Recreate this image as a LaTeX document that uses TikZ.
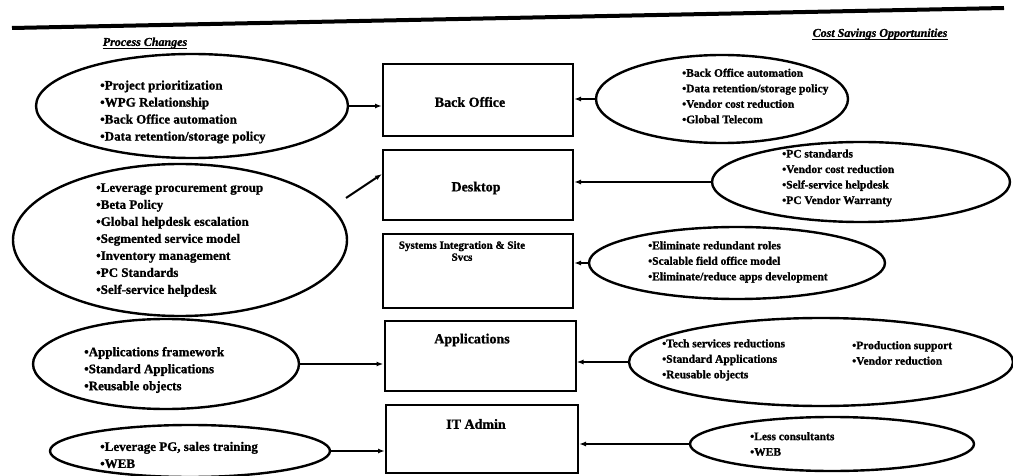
\documentclass[tikz,border=0pt]{standalone}
\usepackage{fontspec}
\setmainfont{Liberation Serif}[BoldFeatures={FakeBold=1.2},BoldItalicFeatures={FakeBold=1.2}]
\usetikzlibrary{arrows.meta,shapes.geometric}
\begin{document}
\begin{tikzpicture}[x=1pt,y=-1pt,
  oval/.style={draw, ellipse, line width=2.4pt, inner sep=0pt},
  area/.style={draw, rectangle, line width=2pt, inner sep=0pt, minimum width=190pt},
  items/.style={font=\fontsize{13}{17}\selectfont\bfseries, align=left, inner sep=0pt, anchor=west},
  ritems/.style={font=\fontsize{11.5}{15.5}\selectfont\bfseries, align=left, inner sep=0pt, anchor=west},
  boxlabel/.style={font=\fontsize{14}{16}\selectfont\bfseries, inner sep=0pt},
  smalllabel/.style={font=\fontsize{11}{12}\selectfont\bfseries, inner sep=0pt, align=center},
  heading/.style={font=\fontsize{12}{14}\selectfont\bfseries\itshape, inner sep=0pt},
  underscore/.style={line width=1.3pt},
  link/.style={line width=2pt, -{Latex[length=7pt,width=5pt]}},
]
\useasboundingbox (0,0) rectangle (1013,476);

% rule across the top of the page
\draw[line width=4pt] (12,28) -- (1004,8);

% column headings, underlined
\node[heading] (hleft) at (145,43) {Process Changes};
\node[heading] (hright) at (880,34) {Cost Savings Opportunities};
\draw[underscore] ([yshift=-2.5pt]hleft.base west) -- ([yshift=-2.5pt]hleft.base east);
\draw[underscore] ([yshift=-2.5pt]hright.base west) -- ([yshift=-2.5pt]hright.base east);

% functional areas
\node[area, minimum height=72pt] (bo)   at (478,100) {};
\node[area, minimum height=70pt] (desk) at (478,185) {};
\node[area, minimum height=74pt] (sys)  at (478,271) {};
\node[area, minimum height=70pt, minimum width=191pt] (app) at (480,356) {};
\node[area, minimum height=68pt, minimum width=192pt] (ita) at (482,439) {};

\node[boxlabel] (bolab)   at (470,102) {Back Office};
\node[boxlabel] (desklab) at (476,188) {Desktop};
\node[smalllabel] (syslab) at (462,251) {Systems Integration \& Site\\Svcs};
\node[boxlabel] (applab)  at (472,340) {Applications};
\node[boxlabel] (italab)  at (476,424) {IT Admin};

% process changes (left)
\node[oval, minimum width=312pt, minimum height=104pt] (l1) at (192,106) {};
\node[items] (l1t) at (100,112) {\textbullet Project prioritization\\\textbullet WPG Relationship\\\textbullet Back Office automation\\\textbullet Data retention/storage policy};

\node[oval, minimum width=334pt, minimum height=152pt] (l2) at (180,240) {};
\node[items] (l2t) at (96,240) {\textbullet Leverage procurement group\\\textbullet Beta Policy\\\textbullet Global helpdesk escalation\\\textbullet Segmented service model\\\textbullet Inventory management\\\textbullet PC Standards\\\textbullet Self-service helpdesk};

\node[oval, minimum width=266pt, minimum height=90pt] (l3) at (166,364) {};
\node[items] (l3t) at (84,370) {\textbullet Applications framework\\\textbullet Standard Applications\\\textbullet Reusable objects};

\node[oval, minimum width=280pt, minimum height=52pt] (l4) at (190,451) {};
\node[items] (l4t) at (100,455) {\textbullet Leverage PG, sales training\\\textbullet WEB};

% cost savings opportunities (right)
\node[oval, minimum width=252pt, minimum height=88pt] (r1) at (722,99) {};
\node[ritems] (r1t) at (682,96) {\textbullet Back Office automation\\\textbullet Data retention/storage policy\\\textbullet Vendor cost reduction\\\textbullet Global Telecom};

\node[oval, minimum width=298pt, minimum height=80pt] (r2) at (861,182) {};
\node[ritems] (r2t) at (782,178) {\textbullet PC standards\\\textbullet Vendor cost reduction\\\textbullet Self-service helpdesk\\\textbullet PC Vendor Warranty};

\node[oval, minimum width=296pt, minimum height=72pt] (r3) at (737,263) {};
\node[ritems] (r3t) at (648,262) {\textbullet Eliminate redundant roles\\\textbullet Scalable field office model\\\textbullet Eliminate/reduce apps development};

\node[oval, minimum width=384pt, minimum height=88pt] (r4) at (821,362) {};
\node[ritems] (r4t) at (662,360) {\textbullet Tech services reductions\\\textbullet Standard Applications\\\textbullet Reusable objects};
\node[ritems] (r4u) at (852,353) {\textbullet Production support\\\textbullet Vendor reduction};

\node[oval, minimum width=284pt, minimum height=54pt] (r5) at (832,444) {};
\node[ritems] (r5t) at (750,444) {\textbullet Less consultants\\\textbullet WEB};

% connectors into the functional areas
\coordinate (l2tail) at (346,198);
\draw[link] (l1.east) -- (l1.east -| bo.west);
\draw[link] (l2tail) -- ([yshift=11pt]desk.west);
\draw[link] (l3.east) -- (l3.east -| app.west);
\draw[link] (l4.east) -- (l4.east -| ita.west);

\draw[link] (r1.west) -- (r1.west -| bo.east);
\draw[link] (r2.west) -- (r2.west -| desk.east);
\draw[link] (r3.west) -- (r3.west -| sys.east);
\draw[link] (r4.west) -- (r4.west -| app.east);
\draw[link] (r5.west) -- (r5.west -| ita.east);
\end{tikzpicture}
\end{document}
